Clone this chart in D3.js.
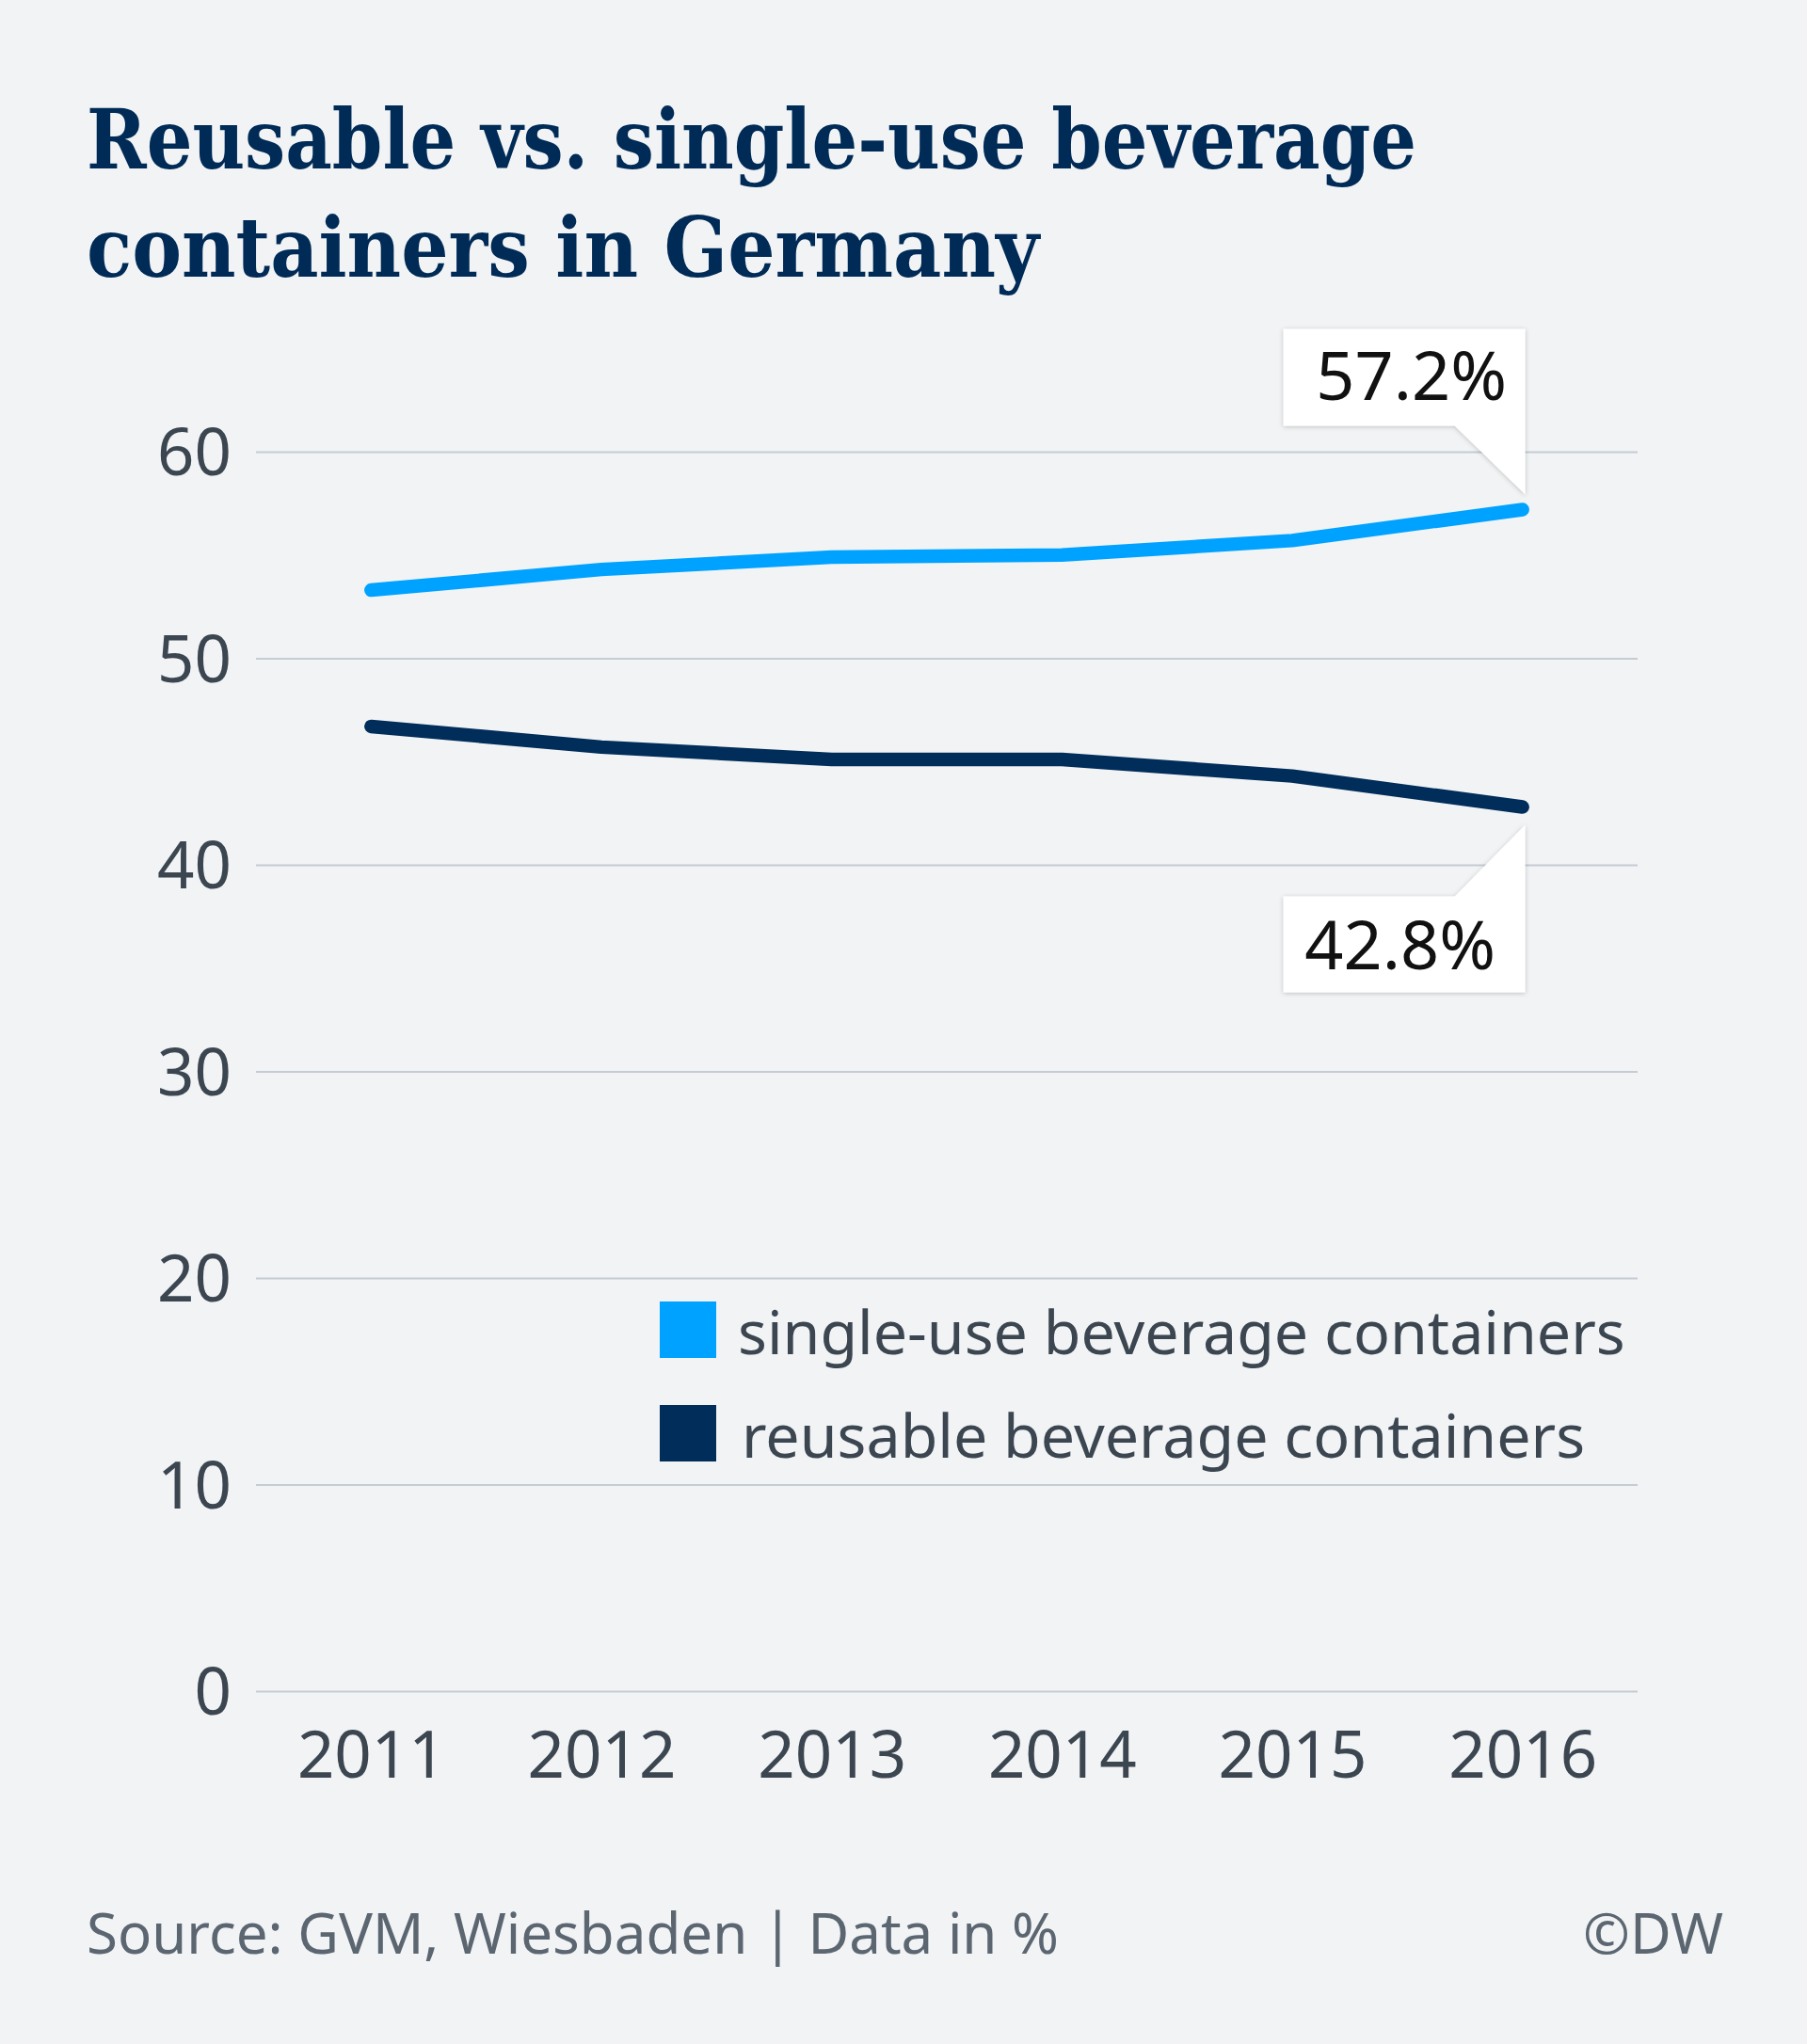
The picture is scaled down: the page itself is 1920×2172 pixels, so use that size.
<!DOCTYPE html>
<html>
<head>
<meta charset="utf-8">
<script src="https://cdn.jsdelivr.net/npm/d3@7"></script>
<style>
  html, body { margin: 0; padding: 0; background: #f1f3f5; }
  svg { display: block; }
</style>
</head>
<body>
<script>
const years = ["2011", "2012", "2013", "2014", "2015", "2016"];
const singleUse = [53.3, 54.3, 54.9, 55.0, 55.7, 57.2];
const reusable = [46.7, 45.7, 45.1, 45.1, 44.3, 42.8];
const yTicks = [0, 10, 20, 30, 40, 50, 60];
const seriesNames = ["single-use beverage containers", "reusable beverage containers"];
const seriesColors = ["#00a2ff", "#002d5a"];
const titleLines = ["Reusable vs. single-use beverage", "containers in Germany"];
const sourceText = "Source: GVM, Wiesbaden | Data in %";
const creditText = "©DW";

const W = 1920, H = 2172;
const svg = d3.select("body").append("svg").attr("width", W).attr("height", H);
svg.append("rect").attr("width", W).attr("height", H).attr("fill", "#f1f3f5");

const defs = svg.append("defs");
const f = defs.append("filter").attr("id", "shadow").attr("x", "-20%").attr("y", "-20%").attr("width", "140%").attr("height", "140%");
f.append("feDropShadow").attr("dx", 0).attr("dy", 1).attr("stdDeviation", 2.5).attr("flood-color", "#000").attr("flood-opacity", 0.22);

// Title
const titleWidths = [1413, 1012];
titleLines.forEach((t, i) => {
  svg.append("text")
    .attr("x", 92).attr("y", 179 + i * 115)
    .attr("font-family", "'DejaVu Serif', serif")
    .attr("font-stretch", "condensed")
    .attr("font-weight", "bold")
    .attr("font-size", 88)
    .attr("fill", "#002b57")
    .attr("textLength", titleWidths[i])
    .attr("lengthAdjust", "spacingAndGlyphs")
    .text(t);
});

const x = d3.scalePoint().domain(years).range([272, 1740]).padding(0.5);
const y = d3.scaleLinear().domain([0, 60]).range([1797, 480]);

// Gridlines
const yAxis = d3.axisLeft(y).tickValues(yTicks).tickSize(-(1740 - 272)).tickPadding(26).tickFormat(d3.format("d"));
const gy = svg.append("g").attr("transform", "translate(272,0)").call(yAxis);
gy.select(".domain").remove();
gy.selectAll(".tick line").attr("stroke", "#c6ccd3").attr("stroke-width", 2);
gy.selectAll(".tick text")
  .attr("font-family", "'Noto Sans', 'Open Sans', sans-serif")
  .attr("font-size", 69).attr("fill", "#3c4650").attr("dy", "0.36em");

// X axis labels
const xAxis = d3.axisBottom(x).tickSize(0).tickPadding(0);
const gx = svg.append("g").attr("transform", "translate(0,1797)").call(xAxis);
gx.select(".domain").remove();
gx.selectAll(".tick text")
  .attr("font-family", "'Noto Sans', 'Open Sans', sans-serif")
  .attr("font-size", 69).attr("fill", "#3c4650")
  .attr("y", 92).attr("dy", 0);

// Lines
const line = d3.line().x((d, i) => x(years[i])).y(d => y(d));
[singleUse, reusable].forEach((s, i) => {
  svg.append("path").datum(s)
    .attr("d", line)
    .attr("fill", "none")
    .attr("stroke", seriesColors[i])
    .attr("stroke-width", 14.5)
    .attr("stroke-linecap", "round")
    .attr("stroke-linejoin", "round");
});

// Legend
seriesNames.forEach((n, i) => {
  const yy = 1383 + i * 110;
  svg.append("rect").attr("x", 701).attr("y", yy).attr("width", 60).attr("height", 60).attr("fill", seriesColors[i]);
  svg.append("text").attr("x", 784 + i * 4).attr("y", yy + 56)
    .attr("font-family", "'Noto Sans', 'Open Sans', sans-serif")
    .attr("font-size", 64.5).attr("fill", "#3c4650").text(n);
});

// Annotations
const last = years.length - 1;
function callout(value, above) {
  const px = x(years[last]) + 3;
  const py = y(value);
  let pts, textY, textX;
  const left = px - 257;
  if (above) {
    const tipY = py - 16;
    const bottom = tipY - 73;
    const top = bottom - 103;
    pts = [[left, top], [px, top], [px, tipY], [px - 75, bottom], [left, bottom]];
    textY = top + 76;
    textX = left + 136;
  } else {
    const tipY = py + 19;
    const top = tipY + 76;
    const bottom = top + 102;
    pts = [[left, top], [px - 75, top], [px, tipY], [px, bottom], [left, bottom]];
    textY = top + 77;
    textX = left + 124;
  }
  svg.append("path").attr("d", d3.line()(pts) + "Z").attr("fill", "#ffffff").attr("filter", "url(#shadow)");
  svg.append("text").attr("x", textX).attr("y", textY).attr("text-anchor", "middle")
    .attr("font-family", "'Noto Sans', 'Open Sans', sans-serif")
    .attr("font-size", 72).attr("fill", "#111111")
    .text(d3.format(".1f")(value) + "%");
}
callout(singleUse[last], true);
callout(reusable[last], false);

// Footer
svg.append("text").attr("x", 92).attr("y", 2076)
  .attr("font-family", "'Noto Sans', 'Open Sans', sans-serif")
  .attr("font-size", 60).attr("fill", "#5b6671").text(sourceText);
svg.append("text").attr("x", 1831).attr("y", 2076).attr("text-anchor", "end")
  .attr("font-family", "'Noto Sans', 'Open Sans', sans-serif")
  .attr("font-size", 60).attr("fill", "#5b6671").text(creditText);
</script>
</body>
</html>
